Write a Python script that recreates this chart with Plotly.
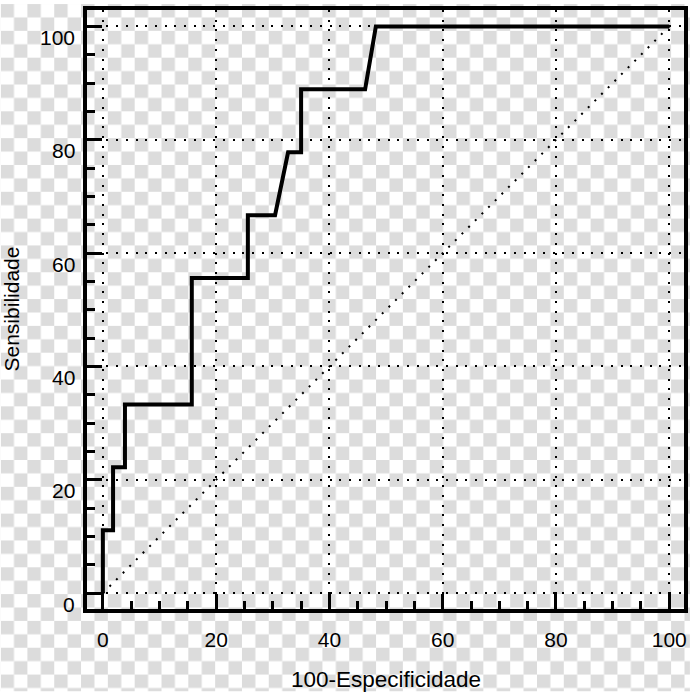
import base64
import plotly.graph_objects as go

# ROC curve points (100-Especificidade, Sensibilidade)
esp_100 = [0, 0, 1.8, 1.8, 3.9, 3.9, 15.7, 15.7, 25.6, 25.6, 30.4, 32.7, 35.0, 35.0, 46.3, 48.2, 100]
sensib = [0, 11.1, 11.1, 22.2, 22.2, 33.3, 33.3, 55.6, 55.6, 66.7, 66.7, 77.8, 77.8, 88.9, 88.9, 100, 100]
diag_x = [0, 100]
diag_y = [0, 100]
tick_vals = [0, 20, 40, 60, 80, 100]
tick_text = ["0", "20", "40", "60", "80", "100"]

W, H = 694, 692
L, R, T, B = 87, 6, 6, 83
pw, ph = W - L - R, H - T - B
FONT = "Liberation Sans, Arial"

fig = go.Figure()
fig.add_trace(go.Scatter(x=diag_x, y=diag_y, mode="lines",
                         line=dict(color="black", width=2, dash="2px,7.4px"),
                         hoverinfo="skip", showlegend=False))
fig.add_trace(go.Scatter(x=esp_100, y=sensib, mode="lines",
                         line=dict(color="black", width=4),
                         showlegend=False))

svg = (f'<svg xmlns="http://www.w3.org/2000/svg" width="{W}" height="{H}">'
       '<defs><pattern id="c" width="27" height="27" patternUnits="userSpaceOnUse">'
       '<rect width="27" height="27" fill="#ffffff"/>'
       '<rect width="13.5" height="13.5" fill="#dcdcdc"/>'
       '<rect x="13.5" y="13.5" width="13.5" height="13.5" fill="#dcdcdc"/>'
       '</pattern></defs><rect width="100%" height="100%" fill="url(#c)"/></svg>')
src = "data:image/svg+xml;base64," + base64.b64encode(svg.encode()).decode()

axis_common = dict(
    showline=True, linewidth=4, linecolor="black", mirror=True,
    ticks="inside", ticklen=15, tickwidth=3, tickcolor="black",
    tickvals=tick_vals, ticktext=tick_text,
    showgrid=True, gridcolor="black", gridwidth=2, griddash="2px,7.7px",
    zeroline=False,
    minor=dict(ticks="inside", ticklen=8, tickwidth=3, tickcolor="black",
               dtick=5, tick0=0, showgrid=False),
    tickfont=dict(family=FONT, size=21, color="black"),
)

annotations = [
    dict(text="100-Especificidade", xref="paper", yref="paper", x=0.5, y=0,
         xanchor="center", yanchor="middle", yshift=-70, showarrow=False,
         font=dict(family=FONT, size=22.5, color="black")),
    dict(text="Sensibilidade", xref="paper", yref="paper", x=0, y=0.5,
         xanchor="center", yanchor="middle", xshift=-76, textangle=-90,
         showarrow=False, font=dict(family=FONT, size=21, color="black")),
]
# y tick labels sit slightly below their ticks in the reference
for v, t in zip(tick_vals, tick_text):
    annotations.append(dict(text=t, xref="paper", yref="y", x=0, y=v,
                            xanchor="right", yanchor="middle", xshift=-10, yshift=-11,
                            showarrow=False, font=dict(family=FONT, size=21, color="black")))

fig.update_layout(
    width=W, height=H,
    margin=dict(l=L, r=R, t=T, b=B, pad=0),
    paper_bgcolor="white", plot_bgcolor="rgba(0,0,0,0)",
    xaxis=dict(range=[-2.8, 102.6], ticklabelstandoff=9, **axis_common),
    yaxis=dict(range=[-2.8, 102.9], showticklabels=False, **axis_common),
    images=[dict(source=src, xref="paper", yref="paper",
                 x=-L / pw, y=1 + T / ph, sizex=W / pw, sizey=H / ph,
                 xanchor="left", yanchor="top", sizing="stretch", layer="below")],
    annotations=annotations,
)

fig.write_html("out.html", config={"displayModeBar": False},
               post_script="document.body.style.margin='0';"
                           "document.body.style.overflow='hidden';")
